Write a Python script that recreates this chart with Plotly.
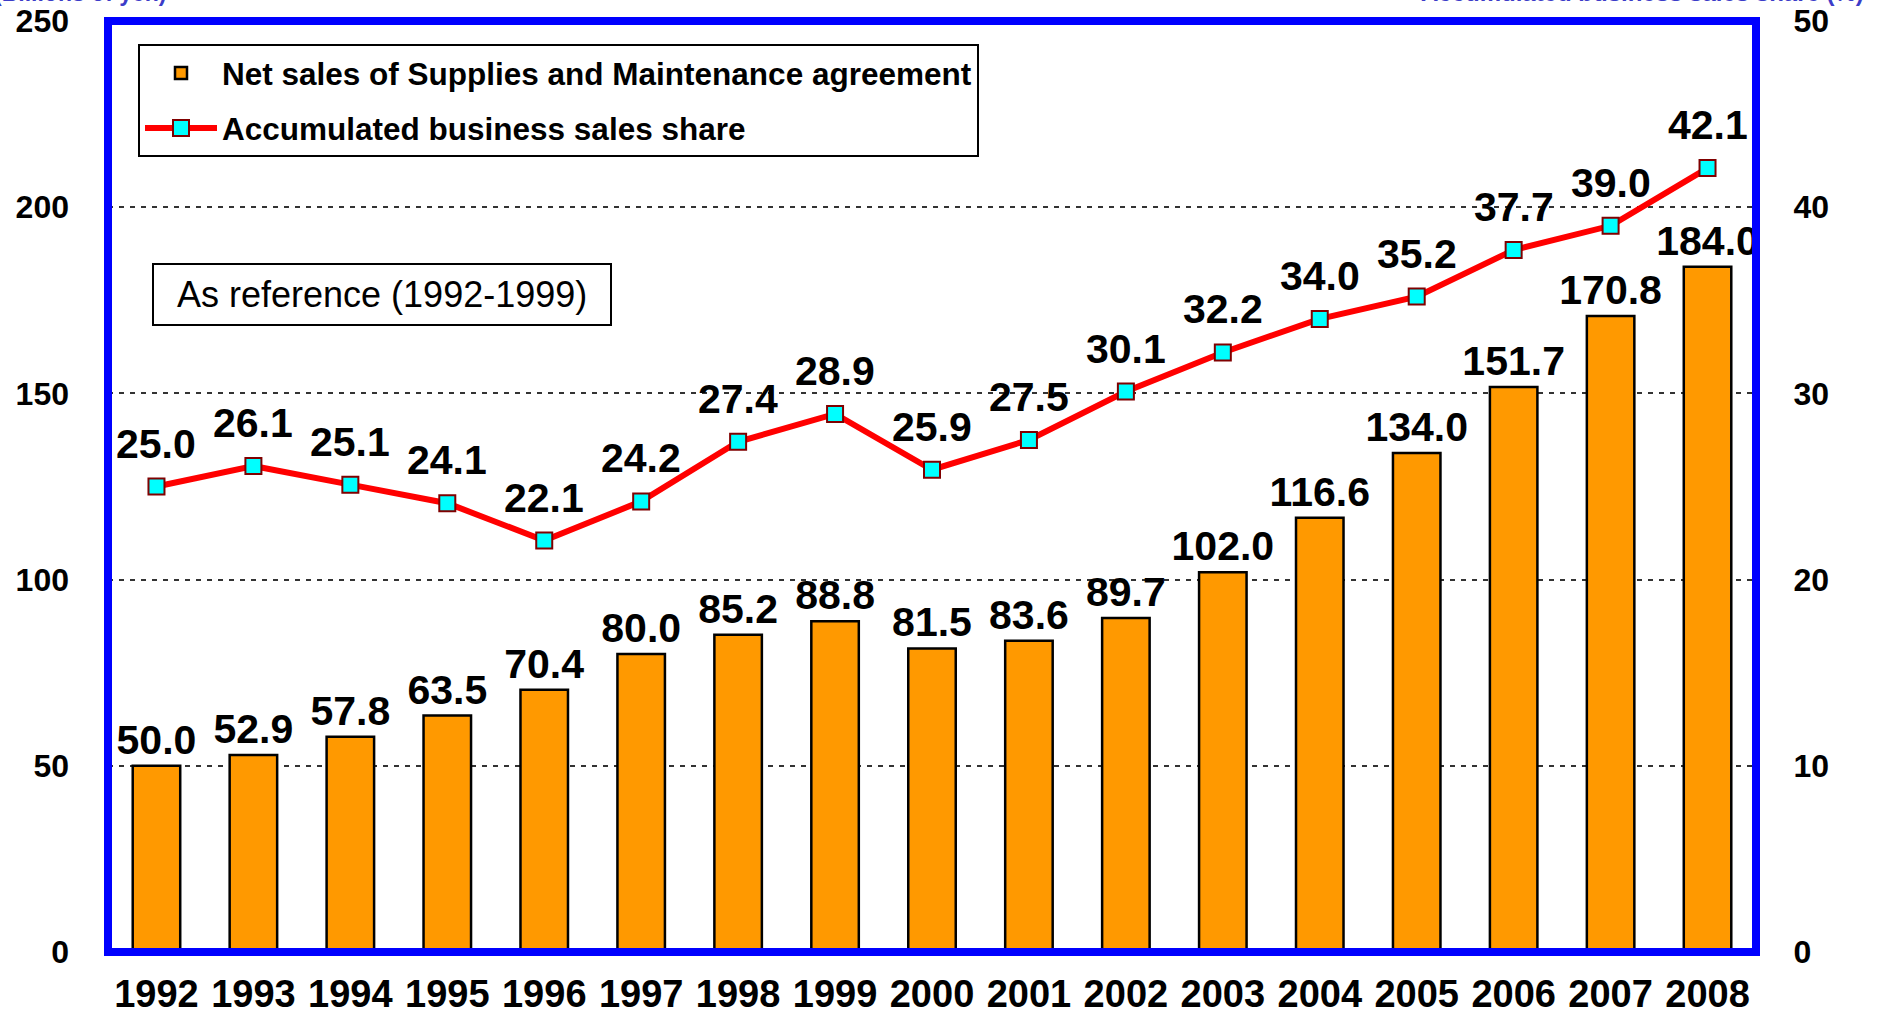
import plotly.graph_objects as go

years = ["1992", "1993", "1994", "1995", "1996", "1997", "1998", "1999", "2000",
         "2001", "2002", "2003", "2004", "2005", "2006", "2007", "2008"]
net_sales = [50.0, 52.9, 57.8, 63.5, 70.4, 80.0, 85.2, 88.8, 81.5,
             83.6, 89.7, 102.0, 116.6, 134.0, 151.7, 170.8, 184.0]
share = [25.0, 26.1, 25.1, 24.1, 22.1, 24.2, 27.4, 28.9, 25.9,
         27.5, 30.1, 32.2, 34.0, 35.2, 37.7, 39.0, 42.1]
left_ticks = [0, 50, 100, 150, 200, 250]
right_ticks = [0, 10, 20, 30, 40, 50]

FONT = "Liberation Sans, Arial, sans-serif"
W, H = 1885, 1014
ML, MR, MT, MB = 108, 129, 21, 62
PW = W - ML - MR
PH = H - MT - MB

def px(x):
    return (x - ML) / PW

def py(y):
    return (H - MB - y) / PH

fig = go.Figure()
fig.add_trace(go.Bar(
    x=years, y=net_sales, name="Net sales of Supplies and Maintenance agreement",
    legendgroup="a",
    marker=dict(color="#FF9900", line=dict(color="black", width=2.5)),
    width=0.49,
    text=[f"{v:.1f}" for v in net_sales], textposition="outside",
    constraintext="none", cliponaxis=False,
    textfont=dict(family=FONT, size=41, color="black", weight="bold"),
))
fig.add_trace(go.Scatter(
    x=years, y=share, yaxis="y2", name="Accumulated business sales share",
    legendgroup="b",
    mode="lines+markers",
    line=dict(color="#FF0000", width=6),
    marker=dict(symbol="square", size=16, color="#00FFFF",
                line=dict(color="#800000", width=2)),
    cliponaxis=False,
))

annotations = []
for i, v in enumerate(share):
    # category axes place annotations by category index
    annotations.append(dict(
        x=i, y=v, xref="x", yref="y2", text=f"{v:.1f}", showarrow=False,
        yshift=43, xanchor="center", yanchor="middle",
        font=dict(family=FONT, size=41, color="black", weight="bold"),
    ))

annotations += [
    dict(text="As reference (1992-1999)", xref="paper", yref="paper",
         x=px((153 + 611) / 2), y=py(294.5),
         xanchor="center", yanchor="middle", showarrow=False,
         font=dict(family=FONT, size=36, color="black")),
    dict(text="(Billions of yen)", xref="paper", yref="paper",
         x=px(-8), y=py(8), xanchor="left", yanchor="bottom",
         showarrow=False,
         font=dict(family=FONT, size=23, color="#3C3CC8", weight="bold")),
    dict(text="Accumulated business sales share (%)", xref="paper", yref="paper",
         x=px(1866), y=py(8), xanchor="right", yanchor="bottom",
         showarrow=False,
         font=dict(family=FONT, size=24, color="#3C3CC8", weight="bold")),
    dict(text="10", xref="paper", yref="paper",
         x=px(1815), y=py(1008), xanchor="left", yanchor="top",
         showarrow=False,
         font=dict(family=FONT, size=30, color="#333333")),
]

fig.update_layout(
    width=W, height=H,
    margin=dict(l=ML, r=MR, t=MT, b=MB, autoexpand=False),
    paper_bgcolor="white", plot_bgcolor="white",
    font=dict(family=FONT, color="black"),
    showlegend=True,
    legend=dict(
        x=px(138), y=py(44), xanchor="left", yanchor="top",
        bordercolor="black", borderwidth=2, bgcolor="white",
        font=dict(family=FONT, size=31.5, color="black", weight="bold"),
        itemwidth=72, tracegroupgap=11,
    ),
    xaxis=dict(
        type="category", showgrid=False, showline=False, ticks="", automargin=False,
        range=[-0.5, len(years) - 0.5],
        tickfont=dict(family=FONT, size=38, color="black", weight="bold"),
        ticklabelstandoff=16,
    ),
    yaxis=dict(
        range=[0, 250], tickvals=left_ticks, showline=False, zeroline=False,
        automargin=False,
        showgrid=True, gridcolor="#333333", gridwidth=2, griddash="5px,6px",
        tickfont=dict(family=FONT, size=32, color="black", weight="bold"),
        ticklabelstandoff=38,
    ),
    yaxis2=dict(
        range=[0, 50], tickvals=right_ticks, overlaying="y", side="right",
        automargin=False,
        showgrid=False, zeroline=False, showline=True, linecolor="black", linewidth=3,
        tickfont=dict(family=FONT, size=32, color="black", weight="bold"),
        ticklabelstandoff=28,
    ),
    shapes=[
        dict(type="rect", xref="paper", yref="paper", x0=0, x1=1, y0=0, y1=1,
             line=dict(color="#0000FF", width=8), layer="above"),
        dict(type="rect", xref="paper", yref="paper",
             x0=px(153), x1=px(611), y0=py(325), y1=py(264),
             line=dict(color="black", width=2), fillcolor="white", layer="below"),
    ],
    annotations=annotations,
)

fig.write_html(
    "out.html",
    config={"displayModeBar": False},
    post_script="document.body.style.margin='0';document.body.style.overflow='hidden';",
)
